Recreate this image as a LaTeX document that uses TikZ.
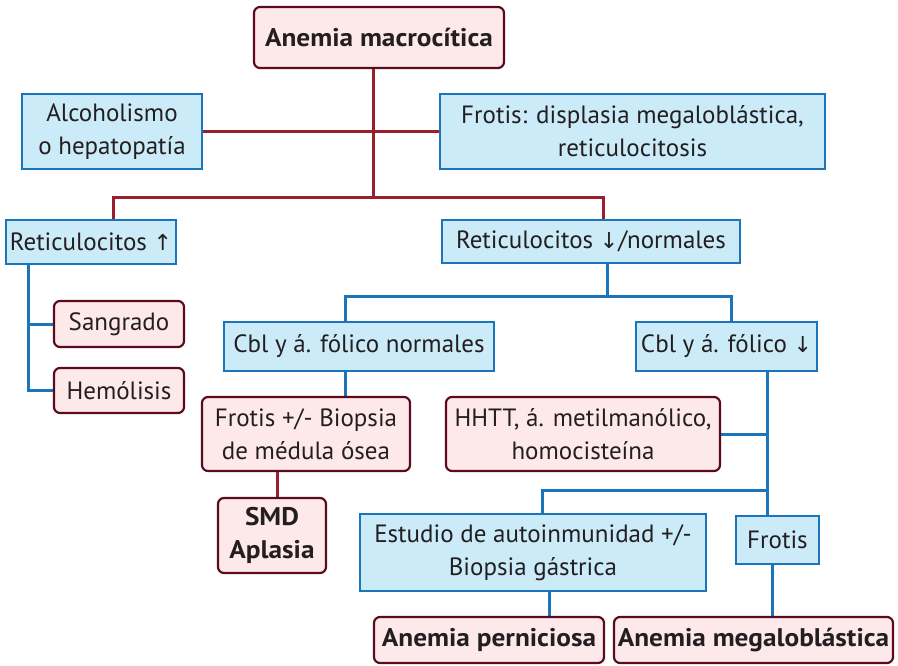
\documentclass[tikz,border=0pt]{standalone}
\usepackage{fontspec}
\setmainfont{PT Sans}
\newfontfamily\arr{DejaVu Sans}
\newfontfamily\bff{PT Sans Bold}[FakeStretch=1.07]
\usetikzlibrary{backgrounds}
\definecolor{txt}{HTML}{231F20}
\definecolor{pfill}{HTML}{FDE9EA}
\definecolor{pdraw}{HTML}{5C0A1E}
\definecolor{rline}{HTML}{9A1F2E}
\definecolor{bfill}{HTML}{CCEBF9}
\definecolor{bdraw}{HTML}{1A75BB}
\newcommand{\bt}[1]{{\bff\fontsize{25.5}{33}\selectfont #1}}
\begin{document}
\begin{tikzpicture}[x=1pt,y=-1pt,
  base/.style={draw, line width=2.2pt, align=center, font=\fontsize{25}{33}\selectfont, text=txt, inner sep=0pt},
  bbox/.style={base, draw=bdraw, fill=bfill},
  pbox/.style={base, draw=pdraw, fill=pfill, rounded corners=6pt},
  rl/.style={draw=rline, line width=3pt},
  bl/.style={draw=bdraw, line width=3pt}]
\path[use as bounding box] (0,0) rectangle (898,665);

\node[pbox, minimum width=250, minimum height=61] (am) at (379,37.5) {\bt{Anemia macrocítica}};
\node[bbox, minimum width=180, minimum height=75] (alc) at (112,131.5) {Alcoholismo\\o hepatopatía};
\node[bbox, minimum width=385, minimum height=75] (fro) at (632.5,131.5) {Frotis: displasia megaloblástica,\\reticulocitosis};
\node[bbox, minimum width=170, minimum height=44] (ru) at (91,242) {Reticulocitos {\arr\fontsize{22}{26}\selectfont ↑}};
\node[bbox, minimum width=298, minimum height=43] (rd) at (591,241.5) {Reticulocitos {\arr\fontsize{22}{26}\selectfont ↓}/normales};
\node[pbox, minimum width=130, minimum height=46] (san) at (119,324) {Sangrado};
\node[pbox, minimum width=130, minimum height=45] (hem) at (119,390.5) {Hemólisis};
\node[bbox, minimum width=270, minimum height=49] (cn) at (359,346.5) {Cbl y á. fólico normales};
\node[bbox, minimum width=181, minimum height=49] (cd) at (726.5,346.5) {Cbl y á. fólico {\arr\fontsize{22}{26}\selectfont ↓}};
\node[pbox, minimum width=208, minimum height=74] (fb) at (306,434) {Frotis +/- Biopsia\\de médula ósea};
\node[pbox, minimum width=274, minimum height=74] (hh) at (583,434) {HHTT, á. metilmanólico,\\homocisteína};
\node[pbox, minimum width=108, minimum height=75] (smd) at (272,535.5) {\bt{SMD}\\\bt{Aplasia}};
\node[bbox, minimum width=346, minimum height=77] (est) at (533,552.5) {Estudio de autoinmunidad +/-\\Biopsia gástrica};
\node[bbox, minimum width=83, minimum height=48] (frs) at (777.5,540) {Frotis};
\node[pbox, minimum width=230, minimum height=46] (ap) at (489,640) {\bt{Anemia perniciosa}};
\node[pbox, minimum width=279, minimum height=46] (amg) at (753.5,640) {\bt{Anemia megaloblástica}};

\coordinate (j1) at (373,197);
\coordinate (j1l) at (113,197);
\coordinate (j1r) at (603,197);
\coordinate (k1) at (28,0);
\coordinate (j2) at (607,296);
\coordinate (j2l) at (345,296);
\coordinate (j2r) at (731,296);
\coordinate (j3) at (277,0);
\coordinate (j4) at (767,490);
\coordinate (j4l) at (542,490);
\coordinate (j5) at (549,0);
\coordinate (j6) at (772,0);

\begin{scope}[on background layer]
\draw[rl] (am.south -| j1) -- (j1);
\draw[rl] (alc.east) -- (fro.west);
\draw[rl] (ru.north -| j1l) -- (j1l) -- (j1r) -- (rd.north -| j1r);
\draw[bl] (ru.south -| k1) |- (hem.west);
\draw[bl] (k1 |- san.west) -- (san.west);
\draw[bl] (rd.south -| j2) -- (j2);
\draw[bl] (cn.north -| j2l) -- (j2l) -- (j2r) -- (cd.north -| j2r);
\draw[bl] (cn.south -| j2l) -- (fb.north -| j2l);
\draw[rl] (fb.south -| j3) -- (smd.north -| j3);
\draw[bl] (cd.south -| j4) -- (frs.north -| j4);
\draw[bl] (hh.east) -- (hh.east -| j4);
\draw[bl] (j4) -- (j4l) -- (est.north -| j4l);
\draw[bl] (est.south -| j5) -- (ap.north -| j5);
\draw[bl] (frs.south -| j6) -- (amg.north -| j6);
\end{scope}
\end{tikzpicture}
\end{document}
